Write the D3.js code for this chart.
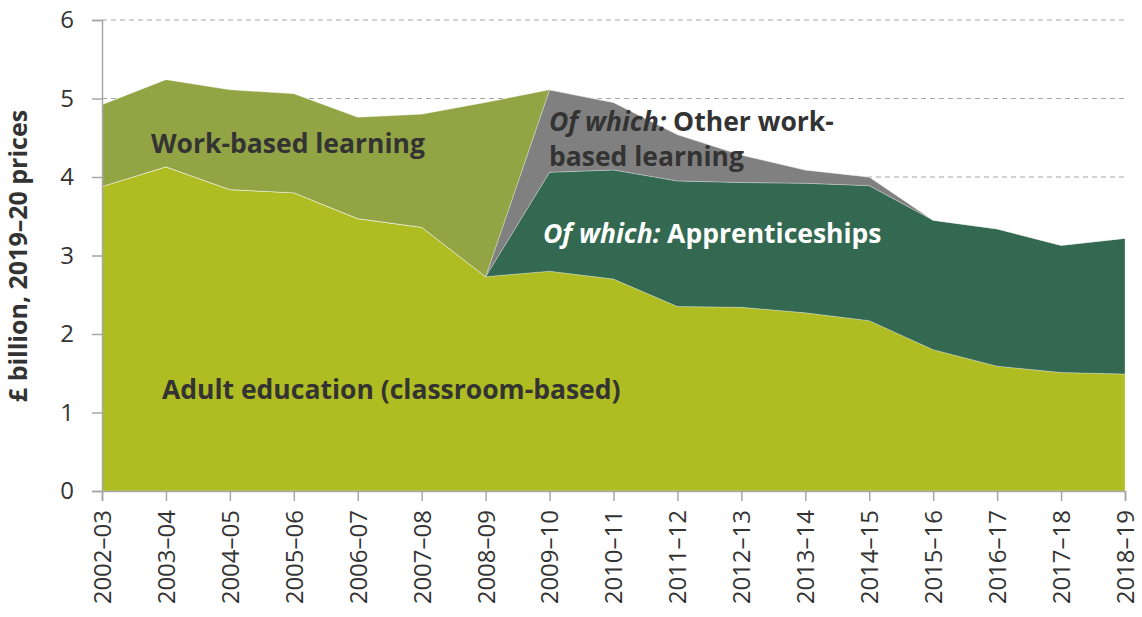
<!DOCTYPE html>
<html>
<head>
<meta charset="utf-8">
<script src="https://cdn.jsdelivr.net/npm/d3@7"></script>
<style>
body{margin:0;background:#fff;}
svg text{font-family:"Open Sans",sans-serif;}
</style>
</head>
<body>
<script>
// years on the x axis
var years = ["2002–03","2003–04","2004–05","2005–06","2006–07","2007–08","2008–09","2009–10","2010–11",
             "2011–12","2012–13","2013–14","2014–15","2015–16","2016–17","2017–18","2018–19"];
// £ billion, 2019-20 prices
var adultEducation = [3.88,4.13,3.84,3.80,3.47,3.36,2.73,2.80,2.70,2.35,2.34,2.27,2.17,1.80,1.59,1.51,1.49];
var apprenticeships = [0,0,0,0,0,0,0,1.26,1.39,1.60,1.59,1.65,1.72,1.65,1.75,1.62,1.73];
var otherWorkBased = [0,0,0,0,0,0,0,1.05,0.86,0.59,0.35,0.17,0.11,0,0,0,0];
var workBased = [1.04,1.11,1.27,1.26,1.29,1.44,2.22,0,0,0,0,0,0,0,0,0,0];
var yTicks = [0,1,2,3,4,5,6];

var W = 1142, H = 617;
var margin = {left:102, right:17, top:20, bottom:126};

var rows = years.map(function(y,i){
  return {year:y, adult:adultEducation[i], app:apprenticeships[i], other:otherWorkBased[i], wbl:workBased[i]};
});
var keys = ["adult","app","other","wbl"];
var colors = {adult:"#afbc22", app:"#336851", other:"#808080", wbl:"#93a445"};

var svg = d3.select("body").append("svg").attr("width",W).attr("height",H);

var x = d3.scalePoint().domain(years).range([margin.left, W-margin.right]);
var y = d3.scaleLinear().domain([0,6]).range([H-margin.bottom, margin.top]);

// gridlines
svg.append("g").selectAll("line").data(yTicks.filter(function(d){return d>0;})).enter().append("line")
  .attr("x1",margin.left).attr("x2",W-margin.right)
  .attr("y1",function(d){return y(d);}).attr("y2",function(d){return y(d);})
  .attr("stroke","#a6a6a6").attr("stroke-width",1).attr("stroke-dasharray","5,4");

var series = d3.stack().keys(keys)(rows);
var area = d3.area()
  .x(function(d){return x(d.data.year);})
  .y0(function(d){return y(d[0]);})
  .y1(function(d){return y(d[1]);});

svg.append("g").selectAll("path").data(series).enter().append("path")
  .attr("d",area)
  .attr("fill",function(d){return colors[d.key];})
  .attr("stroke","#ffffff").attr("stroke-opacity",0.35).attr("stroke-width",0.8);

// axes
var yAxis = svg.append("g").attr("transform","translate("+margin.left+",0)")
  .call(d3.axisLeft(y).tickValues(yTicks).tickFormat(d3.format("d")).tickSize(10).tickPadding(18));
var xAxis = svg.append("g").attr("transform","translate(0,"+(H-margin.bottom)+")")
  .call(d3.axisBottom(x).tickSize(10).tickPadding(6));

[yAxis,xAxis].forEach(function(a){
  a.select(".domain").attr("stroke","#a6a6a6").attr("stroke-width",1.5);
  a.selectAll(".tick line").attr("stroke","#a6a6a6").attr("stroke-width",1.5);
});
yAxis.selectAll("text").attr("font-size",24).attr("fill","#333").attr("font-family","Open Sans");
xAxis.selectAll("text")
  .attr("font-size",24).attr("fill","#333").attr("font-family","Liberation Sans")
  .attr("text-anchor","end").attr("dy","0.35em")
  .attr("transform","translate(0,10) rotate(-90)").attr("x",-9).attr("y",0);

// axis title
svg.append("text")
  .attr("transform","translate(27,256) rotate(-90)")
  .attr("text-anchor","middle").attr("font-size",25).attr("font-weight","bold").attr("fill","#333")
  .text("£ billion, 2019–20 prices");

// area labels
function label(xp, yp, parts, fill){
  var t = svg.append("text").attr("x",xp).attr("y",yp).attr("font-size",26.5).attr("font-weight","bold").attr("fill",fill);
  parts.forEach(function(p){
    t.append("tspan").attr("font-style",p[1] ? "italic" : "normal").text(p[0]);
  });
}
label(151,153,[["Work-based learning",false]],"#333");
label(549,131,[["Of which:",true],[" Other work-",false]],"#333");
label(549,166,[["based learning",false]],"#333");
label(543,243,[["Of which:",true],[" Apprenticeships",false]],"#fff");
label(162,399,[["Adult education (classroom-based)",false]],"#333");
</script>
</body>
</html>
